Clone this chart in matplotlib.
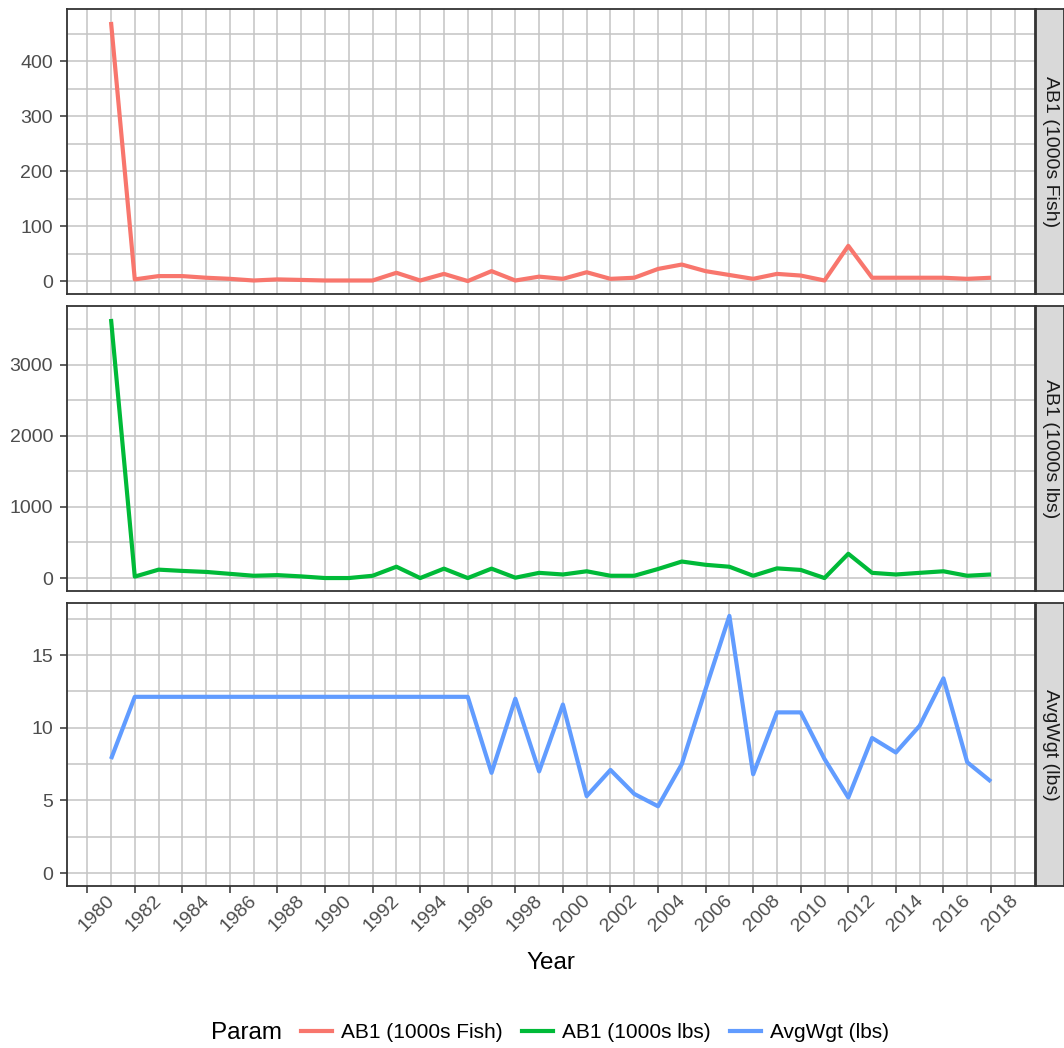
import matplotlib
matplotlib.use('Agg')
import matplotlib.pyplot as plt
import matplotlib.transforms as mtransforms
from matplotlib.lines import Line2D

plt.rcParams['font.family'] = ['Liberation Sans', 'DejaVu Sans']

# data (1981-2018)
years = list(range(1981, 2019))
fish = [471, 3, 9, 9, 6, 4, 1, 3, 2, 1, 1, 1, 15, 1, 13, 0, 18, 1, 8,
        4, 16, 4, 6, 22, 30, 18, 11, 4, 13, 10, 1, 64, 6, 6, 6, 6, 4, 6]
lbs = [3640, 20, 118, 100, 86, 59, 32, 41, 23, 0, 0, 32, 159, 0, 132, 0, 132, 5, 73,
       50, 95, 32, 32, 127, 232, 186, 159, 32, 136, 114, 0, 341, 73, 50, 73, 95, 32, 50]
avgwgt = [7.85, 12.13, 12.13, 12.13, 12.13, 12.13, 12.13, 12.13, 12.13, 12.13, 12.13,
          12.13, 12.13, 12.13, 12.13, 12.13, 6.9, 12.0, 7.0, 11.6, 5.3, 7.1, 5.45, 4.6,
          7.5, 12.66, 17.7, 6.8, 11.06, 11.06, 7.85, 5.2, 9.3, 8.3, 10.14, 13.4, 7.63, 6.3]

params = ['AB1 (1000s Fish)', 'AB1 (1000s lbs)', 'AvgWgt (lbs)']
colors = ['#F8766D', '#00BA38', '#619CFF']
series = [fish, lbs, avgwgt]
yticks = [[0, 100, 200, 300, 400], [0, 1000, 2000, 3000], [0, 5, 10, 15]]
yminor = [[50, 150, 250, 350, 450], [500, 1500, 2500, 3500], [2.5, 7.5, 12.5, 17.5]]
include_zero = [False, False, True]

W, H = 1064, 1048
fig = plt.figure(figsize=(W / 100, H / 100), dpi=100)


def px_axes(l, t, r, b):
    return fig.add_axes([l / W, 1 - b / H, (r - l) / W, (b - t) / H])


panels = [(9, 294), (306, 591), (603, 886)]
grid_col = '#C4C4C4'
border = '#333333'

for i, (top, bot) in enumerate(panels):
    ax = px_axes(67, top, 1035, bot)
    vals = series[i]
    ax.plot(years, vals, color=colors[i], lw=3.0, solid_capstyle='butt', zorder=3)

    lo = min(vals + ([0] if include_zero[i] else []))
    hi = max(vals)
    pad = (hi - lo) * 0.05
    ax.set_ylim(lo - pad, hi + pad)
    ax.set_xlim(1979.15, 2019.85)

    ax.set_xticks(range(1980, 2019, 2))
    ax.set_xticks(range(1981, 2020, 2), minor=True)
    ax.set_yticks(yticks[i])
    ax.set_yticks(yminor[i], minor=True)
    ax.grid(which='both', color=grid_col, lw=1.1)
    ax.set_axisbelow(True)
    ax.tick_params(which='minor', length=0)
    ax.tick_params(which='major', length=5, width=1.1, color=border,
                   labelsize=14, labelcolor='#4D4D4D', pad=5)
    for s in ax.spines.values():
        s.set_color(border)
        s.set_linewidth(1.3)

    if i < 2:
        ax.tick_params(axis='x', which='both', length=0, labelbottom=False)
    else:
        off = mtransforms.ScaledTranslation(0.09, 0.08, fig.dpi_scale_trans)
        for lab in ax.get_xticklabels():
            lab.set_rotation(45)
            lab.set_ha('center')
            lab.set_va('top')
            lab.set_transform(lab.get_transform() + off)

    # facet strip
    sax = px_axes(1036, top, 1064, bot)
    sax.set_facecolor('#D9D9D9')
    sax.set_xticks([])
    sax.set_yticks([])
    for s in sax.spines.values():
        s.set_color(border)
        s.set_linewidth(1.3)
    sax.text(0.5, 0.5, params[i], rotation=-90, ha='center', va='center',
             fontsize=14, color='#1A1A1A', transform=sax.transAxes)

fig.text(551 / W, 1 - 963 / H, 'Year', ha='center', va='center', fontsize=17.5)

handles = [Line2D([], [], color=c, lw=3.0) for c in colors]
fig.text(211 / W, 1 - 1033 / H, 'Param', ha='left', va='center', fontsize=17.5)
fig.legend(handles, params, loc='center', bbox_to_anchor=(595 / W, 1 - 1033 / H),
           ncol=3, frameon=False, fontsize=15, handlelength=1.5,
           handletextpad=0.45, columnspacing=0.9)

fig.savefig('out.png', dpi=100)
